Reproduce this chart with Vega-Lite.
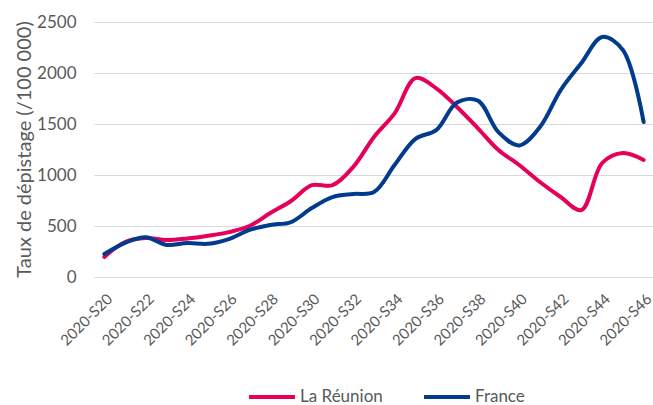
{
  "$schema": "https://vega.github.io/schema/vega-lite/v6.json",
  "autosize": "none",
  "width": 560,
  "height": 255,
  "padding": {"left": 94, "top": 22, "right": 0, "bottom": 128},
  "background": "white",
  "config": {
    "view": {"stroke": null},
    "font": "Lato",
    "axis": {"labelColor": "#595959", "titleColor": "#595959", "labelFont": "Lato", "titleFont": "Lato"},
    "legend": {"labelFont": "Lato"}
  },
  "data": {
    "values": [
      {"week": "2020-S20", "reunion": 196, "france": 225},
      {"week": "2020-S21", "reunion": 343, "france": 335},
      {"week": "2020-S22", "reunion": 382, "france": 390},
      {"week": "2020-S23", "reunion": 363, "france": 314},
      {"week": "2020-S24", "reunion": 378, "france": 333},
      {"week": "2020-S25", "reunion": 405, "france": 326},
      {"week": "2020-S26", "reunion": 440, "france": 372},
      {"week": "2020-S27", "reunion": 500, "france": 461},
      {"week": "2020-S28", "reunion": 627, "france": 510},
      {"week": "2020-S29", "reunion": 745, "france": 539},
      {"week": "2020-S30", "reunion": 900, "france": 676},
      {"week": "2020-S31", "reunion": 900, "france": 784},
      {"week": "2020-S32", "reunion": 1080, "france": 814},
      {"week": "2020-S33", "reunion": 1373, "france": 833},
      {"week": "2020-S34", "reunion": 1607, "france": 1100},
      {"week": "2020-S35", "reunion": 1950, "france": 1355},
      {"week": "2020-S36", "reunion": 1850, "france": 1440},
      {"week": "2020-S37", "reunion": 1667, "france": 1710},
      {"week": "2020-S38", "reunion": 1460, "france": 1730},
      {"week": "2020-S39", "reunion": 1245, "france": 1420},
      {"week": "2020-S40", "reunion": 1098, "france": 1290},
      {"week": "2020-S41", "reunion": 931, "france": 1470},
      {"week": "2020-S42", "reunion": 784, "france": 1833},
      {"week": "2020-S43", "reunion": 657, "france": 2098},
      {"week": "2020-S44", "reunion": 1117, "france": 2353},
      {"week": "2020-S45", "reunion": 1215, "france": 2225},
      {"week": "2020-S46", "reunion": 1147, "france": 1520}
    ]
  },
  "transform": [
    {"fold": ["reunion", "france"], "as": ["key", "value"]},
    {"calculate": "datum.key === 'reunion' ? 'La Réunion' : 'France'", "as": "serie"}
  ],
  "mark": {"type": "line", "interpolate": "catmull-rom", "strokeWidth": 4, "strokeCap": "round"},
  "encoding": {
    "x": {
      "field": "week",
      "type": "ordinal",
      "scale": {"type": "point", "padding": 0.5},
      "axis": {
        "title": null,
        "values": ["2020-S20","2020-S22","2020-S24","2020-S26","2020-S28","2020-S30","2020-S32","2020-S34","2020-S36","2020-S38","2020-S40","2020-S42","2020-S44","2020-S46"],
        "labelAngle": -45,
        "labelAlign": "right",
        "labelBaseline": "top",
        "labelFontSize": 15,
        "labelPadding": 14,
        "labelDx": -6,
        "labelOverlap": false,
        "labelBound": false,
        "ticks": false,
        "domain": false,
        "grid": false
      }
    },
    "y": {
      "field": "value",
      "type": "quantitative",
      "scale": {"domain": [0, 2500], "nice": false},
      "axis": {
        "title": "Taux de dépistage (/100 000)",
        "titleFontSize": 20,
        "titleFontWeight": "normal",
        "titleX": -70,
        "titleY": 127,
        "titleAngle": -90,
        "titleAlign": "center",
        "titleBaseline": "middle",
        "values": [0, 500, 1000, 1500, 2000, 2500],
        "format": "d",
        "labelFontSize": 17,
        "labelPadding": 18,
        "ticks": false,
        "domain": false,
        "gridColor": "#d9d9d9",
        "gridWidth": 1
      }
    },
    "color": {
      "field": "serie",
      "type": "nominal",
      "sort": ["La Réunion", "France"],
      "scale": {"domain": ["La Réunion", "France"], "range": ["#E5005A", "#003B8E"]},
      "legend": {
        "title": null,
        "orient": "none",
        "direction": "horizontal",
        "legendX": 153,
        "legendY": 350,
        "symbolType": "stroke",
        "symbolSize": 2116,
        "symbolStrokeWidth": 4,
        "labelFontSize": 17,
        "labelColor": "#595959",
        "labelOffset": 3,
        "columnPadding": 33
      }
    }
  }
}
